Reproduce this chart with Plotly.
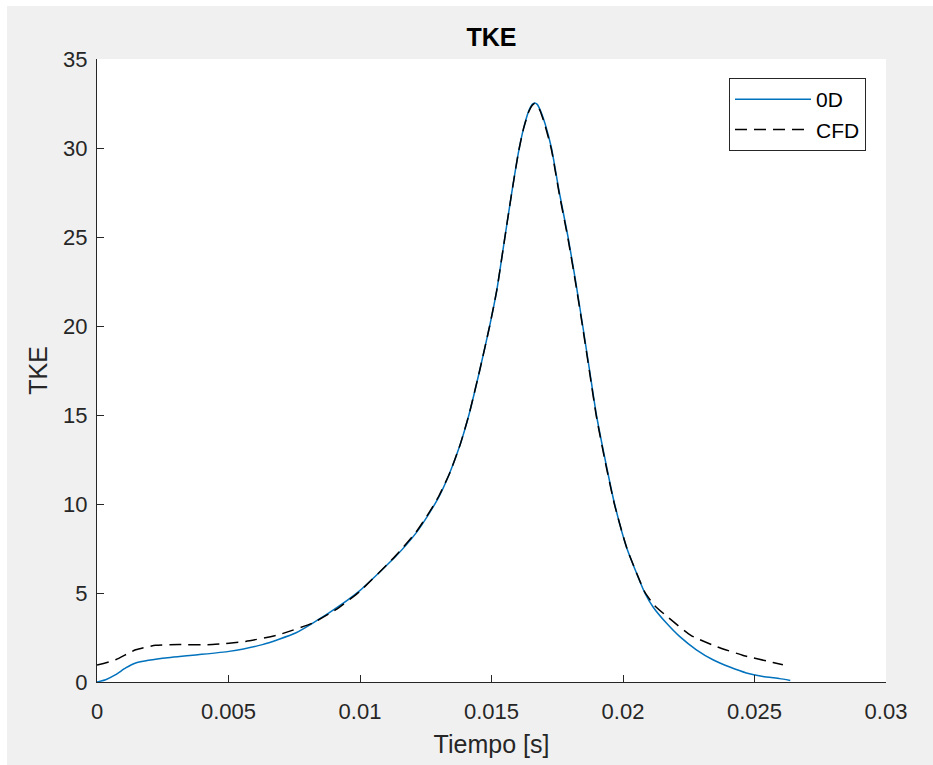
import plotly.graph_objects as go

# ---- data ----
t_0d = [0.0, 0.00033, 0.00071, 0.00109, 0.00147, 0.00249, 0.00375, 0.00502, 0.00629,
        0.00755, 0.00882, 0.00996, 0.01136, 0.01212, 0.01262, 0.01300, 0.01340, 0.01380,
        0.01414, 0.01455, 0.01493, 0.01520, 0.01547, 0.01576, 0.01603, 0.01622, 0.01642,
        0.01655, 0.01664, 0.01674, 0.01686, 0.01705, 0.01728, 0.01758, 0.01791, 0.01820,
        0.01847, 0.01873, 0.01899, 0.01932, 0.01968, 0.02015, 0.02083, 0.02115, 0.02165,
        0.02215, 0.02279, 0.02342, 0.02406, 0.02469, 0.02532, 0.02596, 0.02636]
tke_0d = [0.0, 0.13, 0.41, 0.79, 1.07, 1.33, 1.52, 1.72, 2.10,
          2.75, 3.88, 5.09, 7.06, 8.35, 9.45, 10.4, 11.7, 13.3,
          15.0, 17.5, 20.0, 22.0, 24.6, 27.4, 29.8, 31.1, 32.1,
          32.45, 32.53, 32.45, 32.1, 31.3, 30.0, 27.5, 25.0, 22.5,
          20.0, 17.5, 15.0, 12.5, 10.0, 7.5, 5.0, 4.2, 3.31,
          2.56, 1.81, 1.25, 0.84, 0.51, 0.31, 0.19, 0.09]

t_cfd = [0.0, 0.00071, 0.00147, 0.00223, 0.00312, 0.00439, 0.00565, 0.00692, 0.00819,
         0.00908, 0.00996, 0.01136, 0.01212, 0.01262, 0.01300, 0.01340, 0.01380,
         0.01414, 0.01455, 0.01493, 0.01520, 0.01547, 0.01576, 0.01603, 0.01622, 0.01642,
         0.01655, 0.01664, 0.01674, 0.01686, 0.01705, 0.01728, 0.01758, 0.01791, 0.01820,
         0.01847, 0.01873, 0.01899, 0.01932, 0.01968, 0.02015, 0.02083, 0.02120, 0.02170,
         0.02258, 0.02356, 0.02460, 0.02570, 0.02608]
tke_cfd = [0.95, 1.25, 1.81, 2.06, 2.10, 2.10, 2.28, 2.66, 3.31,
           4.06, 5.05, 7.10, 8.40, 9.50, 10.45, 11.7, 13.3,
           15.0, 17.5, 20.0, 22.0, 24.6, 27.4, 29.8, 31.1, 32.05,
           32.4, 32.5, 32.4, 32.05, 31.2, 29.9, 27.4, 24.9, 22.4,
           19.9, 17.4, 14.9, 12.4, 9.95, 7.5, 5.05, 4.3, 3.65,
           2.62, 1.99, 1.48, 1.10, 0.97]

x_ticks = [0, 0.005, 0.01, 0.015, 0.02, 0.025, 0.03]
x_tick_labels = ["0", "0.005", "0.01", "0.015", "0.02", "0.025", "0.03"]
y_ticks = [0, 5, 10, 15, 20, 25, 30, 35]

FONT = "Liberation Sans, Arial, Helvetica, sans-serif"
AX = "#262626"

fig = go.Figure()
fig.add_trace(go.Scatter(x=t_0d, y=tke_0d, mode="lines", name="0D",
                         line=dict(color="#0072BD", width=1.5, shape="spline", smoothing=0.5)))
fig.add_trace(go.Scatter(x=t_cfd, y=tke_cfd, mode="lines", name="CFD",
                         line=dict(color="#000000", width=1.5, dash="12px,7px",
                                   shape="spline", smoothing=0.5)))

L, R, T, B = 97, 47, 59, 83
W, H = 933, 765
pw, ph = W - L - R, H - T - B

def px2paper_x(px):
    return (px - L) / pw

def px2paper_y(py):
    return (H - B - py) / ph

fig.update_layout(
    width=W, height=H,
    margin=dict(l=L, r=R, t=T, b=B, pad=0),
    paper_bgcolor="#f0f0f0",
    plot_bgcolor="#ffffff",
    font=dict(family=FONT, size=22, color=AX),
    title=dict(text="<b>TKE</b>", x=0.5, xref="paper", xanchor="center",
               y=1 - 37 / H, yref="container", yanchor="middle",
               font=dict(size=25, color="#000000", family=FONT)),
    showlegend=True,
    legend=dict(x=px2paper_x(866), y=px2paper_y(78), xanchor="right", yanchor="top",
                bgcolor="#ffffff", bordercolor=AX, borderwidth=1,
                font=dict(size=21, color="#000000", family=FONT),
                itemwidth=76, tracegroupgap=0),
    xaxis=dict(range=[0, 0.03], tickvals=x_ticks, ticktext=x_tick_labels,
               showgrid=False, zeroline=False, showline=True, linecolor=AX, linewidth=1,
               ticks="inside", ticklen=7, tickcolor=AX, tickwidth=1,
               tickfont=dict(size=22, color=AX), ticklabelstandoff=10,
               title=dict(text="Tiempo [s]", font=dict(size=25, color=AX), standoff=12),
               mirror=False),
    yaxis=dict(range=[0, 35], tickvals=y_ticks,
               showgrid=False, zeroline=False, showline=True, linecolor=AX, linewidth=1,
               ticks="inside", ticklen=7, tickcolor=AX, tickwidth=1,
               tickfont=dict(size=22, color=AX), ticklabelstandoff=4,
               title=dict(text="TKE", font=dict(size=25, color=AX), standoff=8),
               mirror=False),
    shapes=[
        dict(type="rect", xref="paper", yref="paper", layer="above",
             x0=px2paper_x(-5), x1=px2paper_x(7), y0=px2paper_y(H + 5), y1=px2paper_y(-5),
             fillcolor="#ffffff", line=dict(width=0)),
        dict(type="rect", xref="paper", yref="paper", layer="above",
             x0=px2paper_x(-5), x1=px2paper_x(W + 5), y0=px2paper_y(6), y1=px2paper_y(-5),
             fillcolor="#ffffff", line=dict(width=0)),
    ],
)

fig.write_html("out.html")
